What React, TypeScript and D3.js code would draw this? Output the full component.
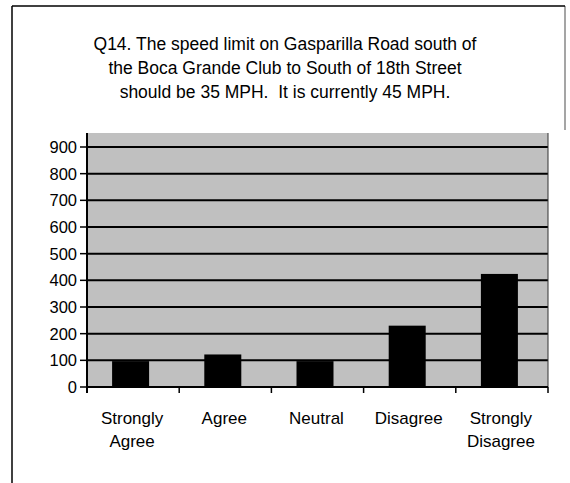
import React from "react";
import * as d3 from "d3";

const categories = ["Strongly Agree", "Agree", "Neutral", "Disagree", "Strongly Disagree"];
const values = [97, 122, 97, 230, 424];
const yTicks = [0, 100, 200, 300, 400, 500, 600, 700, 800, 900];
const titleLines = [
  "Q14. The speed limit on Gasparilla Road south of",
  "the Boca Grande Club to South of 18th Street",
  "should be 35 MPH.  It is currently 45 MPH.",
];

const W = 570;
const H = 483;
const plot = { left: 87, right: 548, top: 133, bottom: 387 };

export default function App() {
  const x = d3
    .scaleBand<string>()
    .domain(categories)
    .range([plot.left, plot.right])
    .paddingInner(0)
    .paddingOuter(0);
  const y = d3.scaleLinear().domain([0, 900]).range([plot.bottom, 147]);
  const barW = 37;
  const font = "'Liberation Sans', Arial, sans-serif";

  return (
    <svg
      width={W}
      height={H}
      style={{ position: "absolute", left: 0, top: 0, background: "#fff" }}
      fontFamily={font}
    >
      {/* outer frame */}
      <line x1={12} x2={12} y1={6} y2={H} stroke="#000" strokeWidth={1.5} />
      <line x1={12} x2={565} y1={6} y2={6} stroke="#000" strokeWidth={1.5} />
      <line x1={565} x2={565} y1={6} y2={130} stroke="#000" strokeWidth={1} opacity={0.7} />

      {/* title */}
      {titleLines.map((t, i) => (
        <text
          key={i}
          x={285}
          y={50 + i * 24}
          textAnchor="middle"
          fontSize={17.5}
          fill="#000"
          style={{ whiteSpace: "pre" }}
        >
          {t}
        </text>
      ))}

      {/* plot background */}
      <rect
        x={plot.left}
        y={plot.top}
        width={plot.right - plot.left}
        height={plot.bottom - plot.top}
        fill="#c0c0c0"
      />

      {/* gridlines */}
      {yTicks
        .filter((t) => t > 0)
        .map((t) => (
          <line
            key={t}
            x1={plot.left}
            x2={plot.right}
            y1={y(t)}
            y2={y(t)}
            stroke="#000"
            strokeWidth={2}
          />
        ))}

      {/* bars */}
      {categories.map((c, i) => {
        const cx = (x(c) as number) + x.bandwidth() / 2 - 2.5;
        return (
          <rect
            key={c}
            x={cx - barW / 2}
            y={y(values[i])}
            width={barW}
            height={y(0) - y(values[i])}
            fill="#000"
          />
        );
      })}

      {/* right border of plot */}
      <line x1={plot.right} x2={plot.right} y1={plot.top} y2={plot.bottom} stroke="#333" strokeWidth={1} />

      {/* y axis */}
      <line x1={plot.left} x2={plot.left} y1={plot.top} y2={plot.bottom + 6} stroke="#000" strokeWidth={2} />
      {yTicks.map((t) => (
        <g key={t}>
          <line x1={plot.left - 7} x2={plot.left} y1={y(t)} y2={y(t)} stroke="#000" strokeWidth={1.5} />
          <text x={77} y={y(t) + 6} textAnchor="end" fontSize={16.5} fill="#000">
            {t}
          </text>
        </g>
      ))}

      {/* x axis */}
      <line x1={plot.left} x2={plot.right} y1={plot.bottom} y2={plot.bottom} stroke="#000" strokeWidth={2} />
      {[...categories.map((c) => x(c) as number), plot.right].map((v, i) => (
        <line key={i} x1={v} x2={v} y1={plot.bottom} y2={plot.bottom + 6} stroke="#000" strokeWidth={1.5} />
      ))}
      {categories.map((c) => {
        const cx = (x(c) as number) + x.bandwidth() / 2 - 1;
        const words = c.split(" ");
        return (
          <text key={c} x={cx} y={424} textAnchor="middle" fontSize={17} fill="#000">
            {words.map((w, j) => (
              <tspan key={j} x={cx} dy={j === 0 ? 0 : 23}>
                {w}
              </tspan>
            ))}
          </text>
        );
      })}
    </svg>
  );
}
